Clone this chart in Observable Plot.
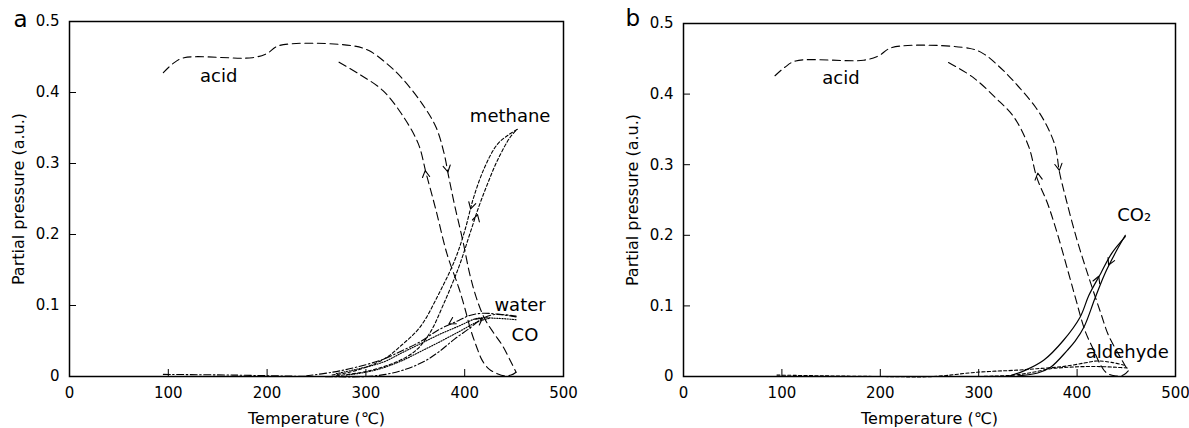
<!DOCTYPE html>
<html>
<head>
<meta charset="utf-8">
<script src="https://cdn.jsdelivr.net/npm/d3@7"></script>
<script src="https://cdn.jsdelivr.net/npm/@observablehq/plot@0.6"></script>
<style>
  html, body { margin: 0; padding: 0; background: #fff; }
  #row { display: flex; width: 1189px; height: 428px; }
</style>
</head>
<body>
<div id="row"></div>
<script>
// ---------- axes ----------
const xTicks = [0, 100, 200, 300, 400, 500];
const yTicks = [0, 0.1, 0.2, 0.3, 0.4, 0.5];
const yTickLabels = ["0", "0.1", "0.2", "0.3", "0.4", "0.5"];
const xTitle = "Temperature (℃)";
const yTitle = "Partial pressure (a.u.)";
const panelLetters = ["a", "b"];

// ---------- panel a : [temperature, partial pressure] ----------
const acidHeatA = [[95,0.428],[105,0.441],[116,0.449],[185,0.449],[200,0.455],[212,0.466],[286,0.466],[303,0.459],[320,0.442],[336,0.421],[357,0.384],[371,0.351],[379,0.315],[384,0.28],[390,0.24],[398,0.192],[405,0.145],[412,0.11],[420,0.082],[429,0.062],[438,0.044],[447,0.02],[452,0.006]];
const acidCoolA = [[452,0.006],[447,0.002],[440,0.001],[433,0.004],[425,0.01],[418,0.022],[412,0.042],[406,0.066],[400,0.097],[394,0.125],[382,0.173],[371,0.234],[361,0.286],[353,0.328],[336,0.37],[317,0.403],[293,0.426],[270,0.445]];
const methaneHeatA = [[270,0.001],[300,0.007],[330,0.02],[350,0.036],[365,0.062],[378,0.1],[394,0.154],[405,0.2],[414,0.238],[423,0.271],[433,0.304],[446,0.337],[453,0.348]];
const methaneCoolA = [[453,0.348],[444,0.34],[433,0.327],[420,0.294],[409,0.252],[400,0.205],[390,0.164],[374,0.117],[355,0.07],[336,0.044],[320,0.026],[300,0.013],[280,0.005],[265,0.002]];
const waterHeatA = [[95,0.003],[165,0.002],[250,0],[300,0],[320,0.003],[340,0.01],[360,0.022],[375,0.036],[390,0.053],[405,0.068],[417,0.081],[429,0.087],[440,0.087],[452,0.085]];
const waterCoolA = [[452,0.084],[432,0.088],[417,0.089],[405,0.086],[394,0.079],[374,0.066],[355,0.049],[336,0.036],[317,0.024],[290,0.013],[266,0.006],[240,0.001]];
const coHeatA = [[280,0.002],[300,0.006],[317,0.012],[336,0.022],[355,0.035],[375,0.049],[394,0.063],[413,0.077],[425,0.082]];
const coCoolA = [[452,0.08],[432,0.082],[413,0.082],[394,0.071],[374,0.059],[355,0.046],[336,0.033],[317,0.02],[290,0.01],[270,0.004]];

// ---------- panel b ----------
const acidHeatB = [[93,0.426],[103,0.438],[114,0.447],[183,0.448],[198,0.454],[212,0.466],[290,0.465],[305,0.457],[320,0.44],[335,0.419],[358,0.381],[370,0.353],[378,0.325],[382,0.29],[389,0.25],[400,0.193],[412,0.14],[424,0.09],[432,0.058],[442,0.032],[449,0.015],[452,0.008]];
const acidCoolB = [[452,0.008],[447,0.002],[438,0.001],[430,0.005],[424,0.016],[416,0.04],[408,0.065],[397,0.118],[380,0.202],[370,0.245],[359,0.282],[351,0.325],[336,0.367],[317,0.395],[294,0.424],[269,0.445]];
const co2HeatB = [[330,0],[346,0.008],[366,0.023],[386,0.051],[403,0.084],[412,0.115],[424,0.146],[435,0.174],[449,0.198]];
const co2CoolB = [[449,0.2],[440,0.178],[428,0.145],[418,0.11],[407,0.07],[398,0.05],[390,0.037],[373,0.013],[360,0.005],[340,0.001]];
const aldehydeHeatB = [[95,0.002],[140,0.001],[200,0],[254,0],[298,0.006],[339,0.009],[359,0.011],[385,0.014],[407,0.019],[420,0.022],[435,0.02],[448,0.016]];
const aldehydeCoolB = [[451,0.012],[440,0.013],[424,0.014],[406,0.014],[390,0.013],[373,0.011],[355,0.006],[336,0.002],[300,0]];

// ---------- curve labels: [text, temperature, pressure] ----------
const labelsA = [["acid",151,0.423],["methane",446,0.366],["water",456,0.101],["CO",461,0.058]];
const labelsB = [["acid",160,0.423],["CO₂",458,0.229],["aldehyde",451,0.035]];

// ---------- direction arrows: [T from, p from, T to, p to] ----------
const arrowsA = [[380,0.31,383,0.288],[362,0.27,360,0.29],[409,0.252,406,0.236],[410,0.212,413,0.228],[390,0.079,384,0.074],[413,0.077,418,0.082]];
const arrowsB = [[380,0.31,382,0.292],[362,0.268,360,0.288],[418,0.128,422,0.142],[436,0.17,432,0.158]];

const font = "DejaVu Sans, sans-serif";

const chevron = {
  draw(ctx) {
    ctx.moveTo(-3.6, 6.5);
    ctx.lineTo(0, 0);
    ctx.lineTo(3.6, 6.5);
  }
};

function panel(cfg) {
  const height = 428, marginBottom = 52;
  const sx = d3.scaleLinear([0, 500], [cfg.marginLeft, cfg.width - cfg.marginRight]);
  const sy = d3.scaleLinear([0, 0.5], [height - marginBottom, cfg.marginTop]);
  const angle = (d) => Math.atan2(sx(d[2]) - sx(d[0]), -(sy(d[3]) - sy(d[1]))) * 180 / Math.PI;
  const lineMarks = cfg.series.map(([data, dash, w]) =>
    Plot.line(data, {x: d => d[0], y: d => d[1], stroke: "#000", strokeWidth: w || 1.1,
      strokeDasharray: dash, curve: "catmull-rom"}));
  return Plot.plot({
    width: cfg.width, height,
    marginLeft: cfg.marginLeft, marginRight: cfg.marginRight, marginTop: cfg.marginTop, marginBottom,
    style: {fontFamily: font, fontSize: "15px", color: "#000", background: "#fff", overflow: "visible"},
    x: {domain: [0, 500]},
    y: {domain: [0, 0.5]},
    marks: [
      ...lineMarks,
      Plot.vector(cfg.arrows, {x: d => d[2], y: d => d[3], rotate: angle, length: 0, anchor: "start",
        shape: chevron, stroke: "#000", strokeWidth: 1.1}),
      Plot.text(cfg.labels, {x: d => d[1], y: d => d[2], text: d => d[0], fontSize: 18, fill: "#000",
        textAnchor: "middle", lineAnchor: "middle"}),
      Plot.axisX(xTicks, {tickSize: -7, tickPadding: 18, label: null, fontSize: 15, tickFormat: d => String(d)}),
      Plot.axisY(yTicks, {tickSize: -7, tickPadding: 17, label: null, fontSize: 15,
        tickFormat: d => yTickLabels[yTicks.indexOf(d)]}),
      Plot.frame({stroke: "#000", strokeWidth: 1.5}),
      Plot.text([xTitle], {frameAnchor: "bottom", dy: 42, text: d => d, fontSize: 16,
        textAnchor: "middle", lineAnchor: "middle"}),
      Plot.text([yTitle], {frameAnchor: "left", dx: -51, rotate: -90, text: d => d, fontSize: 16,
        textAnchor: "middle", lineAnchor: "middle"}),
      Plot.text([cfg.letter], {frameAnchor: "top-left", dx: cfg.letterDx, dy: cfg.letterDy, text: d => d,
        fontSize: 23, textAnchor: "start", lineAnchor: "middle"})
    ]
  });
}

const row = document.getElementById("row");
row.append(panel({
  width: 594, marginLeft: 69, marginRight: 31, marginTop: 21,
  letter: panelLetters[0], letterDx: -56, letterDy: -2,
  labels: labelsA, arrows: arrowsA,
  series: [
    [acidHeatA, "8,4.5"], [acidCoolA, "8,4.5"],
    [methaneHeatA, "3.2,2.2"], [methaneCoolA, "3.2,2.2"],
    [waterHeatA, "7,2.5,1.5,2.5"], [waterCoolA, "7,2.5,1.5,2.5"],
    [coHeatA, "1.2,1.4"], [coCoolA, "1.2,1.4"]
  ]
}));
row.append(panel({
  width: 595, marginLeft: 89, marginRight: 14, marginTop: 23,
  letter: panelLetters[1], letterDx: -58, letterDy: -5,
  labels: labelsB, arrows: arrowsB,
  series: [
    [acidHeatB, "8,4.5"], [acidCoolB, "8,4.5"],
    [co2HeatB, null, 1.2], [co2CoolB, null, 1.2],
    [aldehydeHeatB, "3.2,2.2"], [aldehydeCoolB, "3.2,2.2"]
  ]
}));
</script>
</body>
</html>
